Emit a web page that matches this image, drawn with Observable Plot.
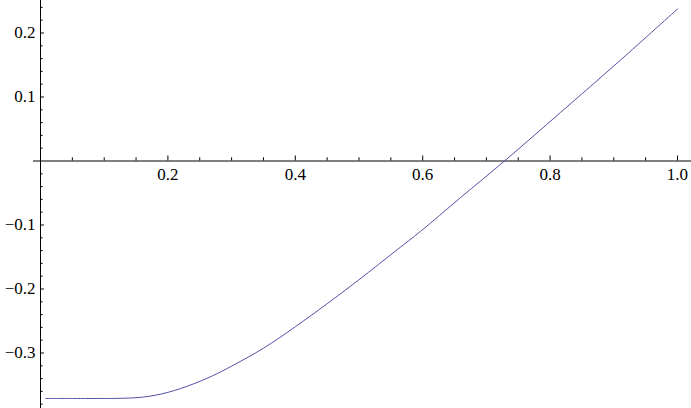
<!DOCTYPE html>
<html><head><meta charset="utf-8">
<script src="https://cdn.jsdelivr.net/npm/d3@7"></script>
<script src="https://cdn.jsdelivr.net/npm/@observablehq/plot@0.6"></script>
<style>
html,body{margin:0;padding:0;background:#fff}
</style>
</head><body><div id="chart"></div>
<script>
// curve samples
const xs = [0.008, 0.05, 0.1, 0.12, 0.14, 0.16, 0.18, 0.2, 0.22, 0.24, 0.27, 0.3, 0.35, 0.4, 0.45, 0.5, 0.56, 0.5965, 0.6593, 0.7284, 0.8163, 0.91, 1.0];
const ys = [-0.371, -0.371, -0.371, -0.3709, -0.3704, -0.369, -0.366, -0.3615, -0.3555, -0.3483, -0.3357, -0.3205, -0.2925, -0.259, -0.223, -0.1855, -0.1385, -0.1100, -0.0573, 0, 0.0758, 0.1572, 0.2375];

// ticks
const xMajor = [0.2, 0.4, 0.6, 0.8, 1.0];
const xLabels = ["0.2", "0.4", "0.6", "0.8", "1.0"];
const xMinor = [0.05, 0.1, 0.15, 0.25, 0.3, 0.35, 0.45, 0.5, 0.55, 0.65, 0.7, 0.75, 0.85, 0.9, 0.95];
const yMajor = [-0.3, -0.2, -0.1, 0.1, 0.2];
const yLabels = ["\u22120.3", "\u22120.2", "\u22120.1", "0.1", "0.2"];
const yMinor = [-0.38, -0.36, -0.34, -0.32, -0.28, -0.26, -0.24, -0.22, -0.18, -0.16, -0.14, -0.12, -0.08, -0.06, -0.04, -0.02, 0.02, 0.04, 0.06, 0.08, 0.12, 0.14, 0.16, 0.18, 0.22, 0.24];

const W = 691, H = 408;
const xDomain = [-0.0628, 1.0220];
const yDomain = [-0.3867, 0.2508];
const ux = (xDomain[1] - xDomain[0]) / W;
const uy = (yDomain[1] - yDomain[0]) / H;
const data = xs.map((x, i) => ({x, y: ys[i]}));
const serif = "Liberation Serif";

const chart = Plot.plot({
  width: W, height: H, margin: 0,
  x: {domain: xDomain, axis: null},
  y: {domain: yDomain, axis: null},
  style: {background: "white", color: "black", fontFamily: serif},
  marks: [
    Plot.ruleX([0], {y1: yDomain[0], y2: yDomain[1], stroke: "black"}),
    Plot.ruleY([0], {x1: -0.011, x2: xDomain[1], stroke: "black"}),
    Plot.ruleX(xMajor, {x: d => d, y1: 0, y2: 5 * uy, stroke: "black"}),
    Plot.ruleX(xMinor, {x: d => d, y1: 0, y2: 3.2 * uy, stroke: "black"}),
    Plot.ruleY(yMajor, {y: d => d, x1: 0, x2: 4 * ux, stroke: "black"}),
    Plot.ruleY(yMinor, {y: d => d, x1: 0, x2: 2.6 * ux, stroke: "black"}),
    Plot.text(xMajor, {x: d => d, y: 0, text: (d, i) => xLabels[i], dy: 14, fill: "black", fontSize: 17, fontFamily: serif}),
    Plot.text(yMajor, {x: 0, y: d => d, text: (d, i) => yLabels[i], textAnchor: "end", dx: -5, fill: "black", fontSize: 17, fontFamily: serif}),
    Plot.line(data, {x: "x", y: "y", stroke: "#5252a8", strokeWidth: 1, curve: "catmull-rom"})
  ]
});
document.getElementById("chart").append(chart);
</script>
</body></html>
